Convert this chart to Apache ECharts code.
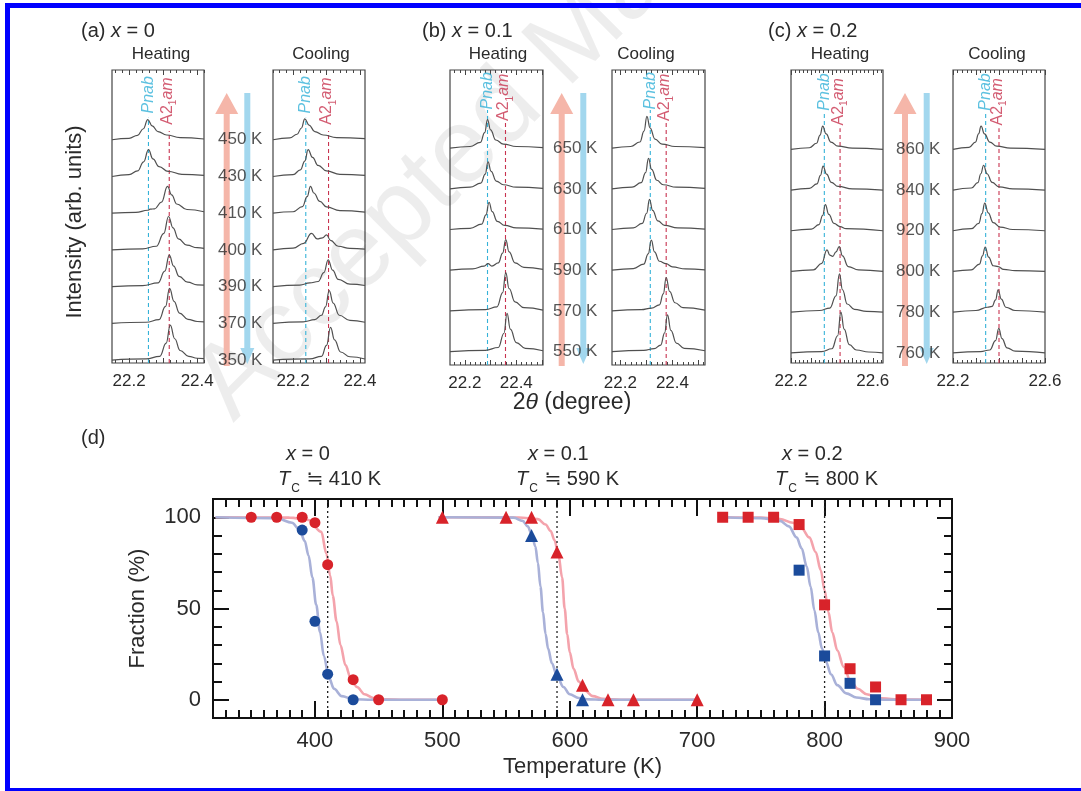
<!DOCTYPE html>
<html><head><meta charset="utf-8">
<script src="https://cdn.jsdelivr.net/npm/echarts@6/dist/echarts.min.js"></script>
<style>html,body{margin:0;padding:0;background:#fff}#c{width:1081px;height:791px}</style>
</head><body><div id="c"></div>
<script>
// ---------------- DATA ----------------
// Panel (a) x = 0 : temperature labels (top to bottom) and traces [2theta, relative intensity]
const aTemps = ['450 K','430 K','410 K','400 K','390 K','370 K','350 K'];
const aHeatTraces = [
  [[22.15,0.00],[22.20,0.04],[22.225,0.12],[22.242,0.30],[22.255,0.55],[22.268,0.38],[22.285,0.22],[22.31,0.13],[22.35,0.06],[22.42,0.02]],
  [[22.15,0.00],[22.20,0.05],[22.225,0.15],[22.243,0.40],[22.257,0.73],[22.27,0.48],[22.288,0.27],[22.315,0.14],[22.355,0.06],[22.42,0.03]],
  [[22.15,0.00],[22.22,0.02],[22.255,0.08],[22.262,0.11],[22.275,0.12],[22.295,0.30],[22.313,0.73],[22.325,0.50],[22.34,0.25],[22.37,0.10],[22.42,0.04]],
  [[22.15,0.00],[22.24,0.03],[22.28,0.10],[22.302,0.45],[22.316,0.91],[22.329,0.60],[22.345,0.30],[22.37,0.13],[22.40,0.06],[22.42,0.04]],
  [[22.15,0.00],[22.24,0.03],[22.285,0.10],[22.305,0.42],[22.318,0.86],[22.331,0.56],[22.347,0.28],[22.372,0.12],[22.40,0.05],[22.42,0.04]],
  [[22.15,0.00],[22.25,0.03],[22.288,0.10],[22.307,0.46],[22.319,0.95],[22.332,0.60],[22.348,0.28],[22.373,0.11],[22.40,0.05],[22.42,0.04]],
  [[22.15,0.00],[22.25,0.03],[22.29,0.10],[22.309,0.46],[22.321,0.95],[22.334,0.58],[22.35,0.26],[22.375,0.10],[22.40,0.05],[22.42,0.04]]
];
const aCoolTraces = [
  [[22.14,0.00],[22.19,0.05],[22.212,0.15],[22.225,0.32],[22.235,0.57],[22.248,0.40],[22.265,0.22],[22.29,0.13],[22.33,0.06],[22.415,0.03]],
  [[22.14,0.00],[22.20,0.05],[22.222,0.18],[22.235,0.42],[22.245,0.73],[22.258,0.52],[22.275,0.30],[22.30,0.15],[22.34,0.06],[22.415,0.03]],
  [[22.14,0.00],[22.20,0.04],[22.228,0.18],[22.242,0.45],[22.252,0.73],[22.262,0.55],[22.28,0.32],[22.30,0.17],[22.34,0.07],[22.415,0.03]],
  [[22.14,0.00],[22.20,0.05],[22.232,0.18],[22.255,0.45],[22.272,0.30],[22.288,0.33],[22.300,0.41],[22.312,0.26],[22.335,0.10],[22.37,0.04],[22.415,0.02]],
  [[22.14,0.00],[22.22,0.04],[22.25,0.10],[22.275,0.14],[22.292,0.38],[22.305,0.73],[22.318,0.45],[22.335,0.20],[22.37,0.07],[22.415,0.03]],
  [[22.14,0.00],[22.23,0.04],[22.265,0.10],[22.285,0.22],[22.297,0.45],[22.308,0.89],[22.32,0.55],[22.338,0.22],[22.37,0.08],[22.415,0.03]],
  [[22.14,0.00],[22.25,0.03],[22.285,0.10],[22.30,0.40],[22.312,0.89],[22.324,0.55],[22.342,0.22],[22.37,0.09],[22.415,0.03]]
];
const aHeatPeaks = [22.257, 22.318];   // Pnab, A2_1am reference positions
const aCoolPeaks = [22.238, 22.306];

// Panel (b) x = 0.1
const bTemps = ['650 K','630 K','610 K','590 K','570 K','550 K'];
const bHeatTraces = [
  [[22.142,0.00],[22.22,0.04],[22.26,0.14],[22.277,0.38],[22.288,0.70],[22.30,0.45],[22.32,0.20],[22.35,0.10],[22.40,0.04],[22.504,0.01]],
  [[22.142,0.00],[22.22,0.04],[22.262,0.14],[22.279,0.36],[22.29,0.66],[22.302,0.43],[22.322,0.19],[22.35,0.10],[22.40,0.04],[22.504,0.01]],
  [[22.142,0.00],[22.22,0.03],[22.265,0.13],[22.282,0.36],[22.294,0.67],[22.306,0.44],[22.326,0.20],[22.355,0.10],[22.40,0.04],[22.504,0.01]],
  [[22.142,0.00],[22.23,0.03],[22.275,0.10],[22.29,0.16],[22.305,0.10],[22.33,0.18],[22.347,0.42],[22.359,0.75],[22.372,0.45],[22.395,0.18],[22.43,0.07],[22.504,0.02]],
  [[22.142,0.00],[22.28,0.03],[22.325,0.10],[22.347,0.45],[22.359,0.94],[22.372,0.55],[22.395,0.22],[22.43,0.08],[22.504,0.02]],
  [[22.142,0.00],[22.28,0.03],[22.33,0.10],[22.352,0.45],[22.364,0.94],[22.377,0.55],[22.40,0.22],[22.435,0.08],[22.504,0.02]]
];
const bCoolTraces = [
  [[22.168,0.00],[22.24,0.04],[22.275,0.15],[22.291,0.42],[22.302,0.78],[22.314,0.50],[22.333,0.22],[22.36,0.10],[22.41,0.04],[22.525,0.01]],
  [[22.168,0.00],[22.245,0.04],[22.28,0.15],[22.297,0.40],[22.308,0.75],[22.32,0.48],[22.34,0.21],[22.365,0.10],[22.415,0.04],[22.525,0.01]],
  [[22.168,0.00],[22.25,0.04],[22.284,0.15],[22.301,0.40],[22.312,0.74],[22.324,0.47],[22.344,0.21],[22.37,0.10],[22.42,0.04],[22.525,0.01]],
  [[22.168,0.00],[22.25,0.04],[22.29,0.15],[22.307,0.40],[22.319,0.74],[22.331,0.45],[22.35,0.22],[22.375,0.16],[22.40,0.08],[22.45,0.03],[22.525,0.01]],
  [[22.168,0.00],[22.28,0.03],[22.32,0.07],[22.35,0.15],[22.365,0.42],[22.376,0.82],[22.389,0.48],[22.41,0.20],[22.44,0.08],[22.525,0.02]],
  [[22.168,0.00],[22.29,0.03],[22.33,0.07],[22.355,0.16],[22.37,0.46],[22.381,0.90],[22.394,0.52],[22.415,0.21],[22.445,0.08],[22.525,0.02]]
];
const bHeatPeaks = [22.288, 22.358];
const bCoolPeaks = [22.315, 22.376];

// Panel (c) x = 0.2
const cTemps = ['860 K','840 K','920 K','800 K','780 K','760 K'];
const cHeatTraces = [
  [[22.20,0.00],[22.29,0.04],[22.325,0.15],[22.342,0.35],[22.355,0.57],[22.372,0.38],[22.395,0.18],[22.43,0.08],[22.50,0.03],[22.65,0.00]],
  [[22.20,0.00],[22.29,0.04],[22.327,0.15],[22.344,0.36],[22.357,0.59],[22.374,0.39],[22.397,0.19],[22.43,0.09],[22.50,0.03],[22.65,0.00]],
  [[22.20,0.00],[22.30,0.04],[22.337,0.15],[22.355,0.38],[22.368,0.64],[22.385,0.40],[22.41,0.18],[22.44,0.10],[22.47,0.05],[22.65,0.00]],
  [[22.20,0.00],[22.31,0.04],[22.35,0.20],[22.376,0.53],[22.39,0.40],[22.404,0.37],[22.42,0.48],[22.436,0.61],[22.452,0.38],[22.48,0.12],[22.53,0.04],[22.65,0.00]],
  [[22.20,0.00],[22.34,0.04],[22.39,0.10],[22.42,0.40],[22.437,0.94],[22.452,0.55],[22.475,0.20],[22.51,0.07],[22.57,0.02],[22.65,0.00]],
  [[22.20,0.00],[22.35,0.03],[22.40,0.10],[22.428,0.42],[22.444,1.00],[22.46,0.58],[22.485,0.20],[22.52,0.07],[22.58,0.02],[22.65,0.00]]
];
const cCoolTraces = [
  [[22.20,0.00],[22.27,0.05],[22.298,0.18],[22.311,0.38],[22.322,0.57],[22.337,0.38],[22.36,0.18],[22.39,0.08],[22.45,0.03],[22.60,0.00]],
  [[22.20,0.00],[22.28,0.05],[22.308,0.18],[22.321,0.40],[22.333,0.61],[22.348,0.40],[22.37,0.19],[22.40,0.08],[22.46,0.03],[22.60,0.00]],
  [[22.20,0.00],[22.28,0.05],[22.312,0.18],[22.326,0.42],[22.338,0.68],[22.353,0.44],[22.375,0.20],[22.405,0.09],[22.46,0.03],[22.60,0.00]],
  [[22.20,0.00],[22.28,0.04],[22.315,0.18],[22.328,0.38],[22.34,0.60],[22.355,0.35],[22.375,0.14],[22.396,0.12],[22.42,0.05],[22.47,0.02],[22.60,0.00]],
  [[22.20,0.00],[22.30,0.04],[22.349,0.12],[22.37,0.14],[22.385,0.30],[22.396,0.55],[22.41,0.32],[22.43,0.12],[22.47,0.04],[22.60,0.00]],
  [[22.20,0.00],[22.32,0.03],[22.36,0.07],[22.385,0.30],[22.399,0.60],[22.413,0.35],[22.435,0.12],[22.47,0.04],[22.60,0.00]]
];
const cHeatPeaks = [22.363, 22.440];
const cCoolPeaks = [22.342, 22.400];

const abTickLabels = [22.2, 22.4];
const cTickLabels = [22.2, 22.6];

// Panel (d): fraction (%) vs temperature (K)
const tempTicks = [400, 500, 600, 700, 800, 900];
const fracTicks = [0, 50, 100];
const heat0 = [[350,100],[370,100],[390,100],[400,97],[410,74],[430,11],[450,0],[500,0]];
const cool0 = [[390,93],[400,43],[410,14],[430,0]];
const heat1 = [[500,100],[550,100],[570,100],[590,81],[610,8],[630,0],[650,0],[700,0]];
const cool1 = [[570,90],[590,14],[610,0]];
const heat2 = [[720,100],[740,100],[760,100],[780,96],[800,52],[820,17],[840,7],[860,0],[880,0]];
const cool2 = [[780,71],[800,24],[820,9],[840,0]];
const heatFit0 = [[322,100],[380,99.8],[395,98.5],[405,92],[409,80],[412,68],[414,57],[417,43],[420,30],[424,19],[428,12],[433,7],[439,3],[446,1],[455,0.2],[470,0],[500,0]];
const coolFit0 = [[322,100],[370,99.5],[382,97],[388,93],[392,87],[395,79],[398,67],[401,52],[404,37],[407,24],[411,12],[415,6],[421,2],[430,0.3],[445,0],[500,0]];
const heatFit1 = [[497,100],[560,99.9],[575,99],[581,96],[585,92.5],[588,87.5],[591,80],[594,67],[596,50],[598,36],[600,26],[603,17],[607,10],[612,5],[618,2],[626,0.5],[640,0],[700,0]];
const coolFit1 = [[497,100],[556,99.8],[563,98],[567,95],[570,91],[573,84],[575,75],[577,62],[579,48],[581,36],[583,28],[586,20],[590,13],[595,7],[600,3],[607,1],[615,0.2],[625,0],[700,0]];
const heatFit2 = [[721,100],[750,99.8],[765,99],[775,97],[782,94],[788,89],[793,81],[797,71],[800,60],[803,48],[806,37],[810,27],[815,18],[820,11],[826,6],[833,3],[842,1],[855,0.2],[880,0]];
const coolFit2 = [[721,100],[750,99.5],[765,98],[772,95],[778,89],[782,83],[786,73],[789,62],[792,49],[795,37],[798,28],[801,21],[805,14],[810,8],[817,3.5],[825,1.2],[835,0.3],[850,0],[880,0]];
const tcValues = [410, 590, 800];
const compLabels = ['0', '0.1', '0.2'];

// ---------------- STYLE / LAYOUT ----------------
const FONT = "'Liberation Sans', Arial, 'DejaVu Sans', sans-serif";
const CYAN = '#35b2d8', CRIM = '#c8334f';
const TXT = '#2a2a2a';

const panels = [
  {box:[112,70,92,293], x:[22.15,22.42],  y:[-0.08,7.9], traces:aHeatTraces, peaks:aHeatPeaks, ticks:abTickLabels, lineTop:[6.6,6.24], labelY:[7.17,7.0], temps:aTemps, tempDist:14, title:'Heating', titleX:161},
  {box:[273,70,92,293], x:[22.14,22.415], y:[-0.08,7.9], traces:aCoolTraces, peaks:aCoolPeaks, ticks:abTickLabels, lineTop:[6.6,6.24], labelY:[7.17,7.0], title:'Cooling', titleX:321},
  {box:[450,70,93,295], x:[22.142,22.504],y:[-0.33,6.92], traces:bHeatTraces, peaks:bHeatPeaks, ticks:abTickLabels, lineTop:[5.94,5.69], labelY:[6.36,6.2], temps:bTemps, tempDist:10, title:'Heating', titleX:498},
  {box:[612,70,93,295], x:[22.168,22.525],y:[-0.33,6.92], traces:bCoolTraces, peaks:bCoolPeaks, ticks:abTickLabels, lineTop:[5.94,5.69], labelY:[6.36,6.2], title:'Cooling', titleX:646},
  {box:[791,70,92,293], x:[22.2,22.65],   y:[-0.25,6.95], traces:cHeatTraces, peaks:cHeatPeaks, ticks:cTickLabels, lineTop:[5.89,5.52], labelY:[6.36,6.12], temps:cTemps, tempDist:13, title:'Heating', titleX:840},
  {box:[953,70,92,293], x:[22.2,22.6],    y:[-0.25,6.95], traces:cCoolTraces, peaks:cCoolPeaks, ticks:cTickLabels, lineTop:[5.89,5.52], labelY:[6.36,6.12], title:'Cooling', titleX:997}
];

function stepValues(a, b, step) {
  const out = [];
  for (let k = Math.ceil(a / step - 1e-9); k * step <= b + 1e-9; k++) out.push(+(k * step).toFixed(4));
  return out;
}

const grids = [], xAxis = [], yAxis = [], series = [];

function addXAxes(gi, range, labels, major, minor, st) {
  const base = {gridIndex: gi, type: 'value', min: range[0], max: range[1], splitLine: {show: false}, axisLine: {show: false, onZero: false}};
  const tickStyle = {color: st.color, width: st.width};
  const first = xAxis.length;
  xAxis.push(Object.assign({}, base, {position: 'bottom',
    axisTick: {show: true, inside: true, length: st.maj, customValues: major, lineStyle: tickStyle},
    axisLabel: {show: true, customValues: labels, fontSize: st.fontSize, fontFamily: FONT, color: TXT, margin: st.margin,
      formatter: v => st.decimals ? Number(v).toFixed(st.decimals) : String(v)},
    name: st.name || '', nameLocation: 'middle', nameGap: st.nameGap || 0,
    nameTextStyle: {fontSize: 22, fontFamily: FONT, color: TXT}}));
  xAxis.push(Object.assign({}, base, {position: 'bottom',
    axisTick: {show: true, inside: true, length: st.min, customValues: minor, lineStyle: tickStyle}, axisLabel: {show: false}}));
  xAxis.push(Object.assign({}, base, {position: 'top',
    axisTick: {show: true, inside: true, length: st.maj, customValues: major, lineStyle: tickStyle}, axisLabel: {show: false}}));
  xAxis.push(Object.assign({}, base, {position: 'top',
    axisTick: {show: true, inside: true, length: st.min, customValues: minor, lineStyle: tickStyle}, axisLabel: {show: false}}));
  return first;
}

panels.forEach((p, gi) => {
  grids.push({left: p.box[0], top: p.box[1], width: p.box[2], height: p.box[3], show: true,
    borderColor: '#444', borderWidth: 1.2, backgroundColor: 'transparent'});
  const xi = addXAxes(gi, p.x, p.ticks, stepValues(p.x[0], p.x[1], 0.1), stepValues(p.x[0], p.x[1], 0.02),
    {maj: 5, min: 3, color: '#444', width: 1, fontSize: 17, margin: 10, decimals: 1});
  const yi = yAxis.length;
  yAxis.push({gridIndex: gi, type: 'value', min: p.y[0], max: p.y[1], show: false});
  const n = p.traces.length;
  p.traces.forEach((tr, i) => {
    series.push({type: 'line', xAxisIndex: xi, yAxisIndex: yi, data: tr.map(d => [d[0], d[1] + (n - 1 - i)]),
      smooth: 0.45, smoothMonotone: 'x', symbol: 'none', silent: true, z: 3,
      lineStyle: {color: '#505050', width: 1.2}});
  });
  p.peaks.forEach((pk, k) => {
    series.push({type: 'line', xAxisIndex: xi, yAxisIndex: yi, data: [[pk, p.y[0]], [pk, p.lineTop[k]]],
      symbol: 'none', silent: true, z: 2, lineStyle: {color: k ? CRIM : CYAN, width: 1.1, type: [4, 3]}});
    series.push({type: 'scatter', xAxisIndex: xi, yAxisIndex: yi, data: [[pk, p.labelY[k]]], symbolSize: 0, silent: true, z: 4,
      label: {show: true, position: 'inside', rotate: 90, offset: [2, 0],
        formatter: k ? '{a|A2}{s|1}{i|am}' : '{i|Pnab}',
        rich: {
          a: {fontSize: 16, fontFamily: FONT, color: CRIM, verticalAlign: 'top'},
          i: {fontSize: 16, fontFamily: FONT, fontStyle: 'italic', color: k ? CRIM : CYAN, verticalAlign: 'top'},
          s: {fontSize: 10, fontFamily: FONT, color: CRIM, verticalAlign: 'top', padding: [9, 0, 0, 0]}
        }}});
  });
  if (p.temps) {
    series.push({type: 'scatter', xAxisIndex: xi, yAxisIndex: yi, symbolSize: 0, silent: true, z: 5,
      data: p.temps.map((t, i) => ({name: t, value: [p.x[1], n - 1 - i]})),
      label: {show: true, position: 'right', distance: p.tempDist, formatter: '{b}', fontSize: 17, fontFamily: FONT, color: TXT}});
  }
});

// Panel (d)
const dgi = grids.length;
grids.push({left: 213, top: 499, width: 739, height: 219, show: true, borderColor: '#111', borderWidth: 2, backgroundColor: 'transparent'});
const dxi = addXAxes(dgi, [320, 900], tempTicks, tempTicks, stepValues(330, 890, 10),
  {maj: 17, min: 8, color: '#111', width: 2, fontSize: 22, margin: 12, name: 'Temperature (K)', nameGap: 38});
const dyBase = {gridIndex: dgi, type: 'value', min: -10, max: 110, splitLine: {show: false}, axisLine: {show: false, onZero: false}};
const dTick = {color: '#111', width: 2};
const dyi = yAxis.length;
yAxis.push(Object.assign({}, dyBase, {position: 'left',
  axisTick: {show: true, inside: true, length: 16, customValues: fracTicks, lineStyle: dTick},
  axisLabel: {show: true, customValues: fracTicks, fontSize: 22, fontFamily: FONT, color: TXT, margin: 12},
  name: 'Fraction (%)', nameLocation: 'middle', nameGap: 64, nameTextStyle: {fontSize: 22, fontFamily: FONT, color: TXT}}));
yAxis.push(Object.assign({}, dyBase, {position: 'left',
  axisTick: {show: true, inside: true, length: 9, customValues: stepValues(10, 90, 10), lineStyle: dTick}, axisLabel: {show: false}}));
yAxis.push(Object.assign({}, dyBase, {position: 'right',
  axisTick: {show: true, inside: true, length: 15, customValues: fracTicks, lineStyle: dTick}, axisLabel: {show: false}}));
yAxis.push(Object.assign({}, dyBase, {position: 'right',
  axisTick: {show: true, inside: true, length: 8, customValues: stepValues(10, 90, 10), lineStyle: dTick}, axisLabel: {show: false}}));

const RED = '#d8232a', BLUE = '#1b4b9b', RED_FIT = '#f4a3ac', BLUE_FIT = '#a9b1d8';
[[heatFit0, RED_FIT], [heatFit1, RED_FIT], [heatFit2, RED_FIT], [coolFit0, BLUE_FIT], [coolFit1, BLUE_FIT], [coolFit2, BLUE_FIT]].forEach(([d, c]) => {
  series.push({type: 'line', xAxisIndex: dxi, yAxisIndex: dyi, data: d, smooth: 0.35, smoothMonotone: 'x',
    symbol: 'none', silent: true, z: 2, lineStyle: {color: c, width: 2.6}});
});
tcValues.forEach(tc => {
  series.push({type: 'line', xAxisIndex: dxi, yAxisIndex: dyi, data: [[tc, -10], [tc, 110]], symbol: 'none', silent: true, z: 2,
    lineStyle: {color: '#222', width: 1.3, type: [2, 3]}});
});
[[heat0, RED, 'circle', 11], [heat1, RED, 'triangle', 13], [heat2, RED, 'rect', 11],
 [cool0, BLUE, 'circle', 11], [cool1, BLUE, 'triangle', 13], [cool2, BLUE, 'rect', 11]].forEach(([d, c, s, sz]) => {
  series.push({type: 'scatter', xAxisIndex: dxi, yAxisIndex: dyi, data: d, symbol: s, symbolSize: sz, silent: true, z: 4,
    itemStyle: {color: c, opacity: 1}});
});

// ---------------- GRAPHIC (frame, titles, arrows) ----------------
const graphic = [];
const txt = (x, y, text, size, extra) => Object.assign({type: 'text', x, y, z: 10,
  style: Object.assign({text, fontSize: size, fontFamily: FONT, fill: TXT, align: 'left', verticalAlign: 'middle'}, (extra || {}))});

graphic.push({type: 'text', x: 250, y: 440, rotation: Math.PI / 4, z: 0,
  style: {text: 'Accepted Manuscript', fontSize: 106, fontFamily: FONT, fill: 'rgba(0,0,0,0.07)', align: 'left', verticalAlign: 'bottom'}});

[[226.7, 247.3], [561.7, 583.3], [905, 926.7]].forEach(([rx, bx]) => {
  graphic.push({type: 'polygon', z: 1, shape: {points: [[rx - 3, 366], [rx - 3, 114], [rx - 11.5, 114], [rx, 93], [rx + 11.5, 114], [rx + 3, 114], [rx + 3, 366]]},
    style: {fill: '#f5b6a9'}});
  graphic.push({type: 'polygon', z: 1, shape: {points: [[bx - 3, 93], [bx - 3, 348], [bx - 7, 348], [bx, 364], [bx + 7, 348], [bx + 3, 348], [bx + 3, 93]]},
    style: {fill: '#a2d7ee'}});
});

const richT = size => ({t: {fontSize: size, fontFamily: FONT, fill: TXT}, i: {fontSize: size, fontFamily: FONT, fontStyle: 'italic', fill: TXT}});
graphic.push(txt(81, 31, '{t|(a) }{i|x}{t| = 0}', 20, {rich: richT(20)}));
graphic.push(txt(422, 31, '{t|(b) }{i|x}{t| = 0.1}', 20, {rich: richT(20)}));
graphic.push(txt(768, 31, '{t|(c) }{i|x}{t| = 0.2}', 20, {rich: richT(20)}));
panels.forEach(p => graphic.push(txt(p.titleX, 54, p.title, 17, {align: 'center'})));
graphic.push({type: 'text', x: 75, y: 222, rotation: Math.PI / 2, z: 10,
  style: {text: 'Intensity (arb. units)', fontSize: 22, fontFamily: FONT, fill: TXT, align: 'center', verticalAlign: 'middle'}});
graphic.push(txt(572, 403, '{t|2}{i|θ}{t| (degree)}', 23, {align: 'center', rich: richT(23)}));
graphic.push(txt(81, 438, '(d)', 20));

const tcLeft = [278, 516, 775], xLeft = [286, 528, 782];
tcValues.forEach((tc, k) => {
  graphic.push(txt(xLeft[k], 454, '{i|x}{t| = ' + compLabels[k] + '}', 20, {rich: richT(20)}));
  graphic.push(Object.assign(txt(tcLeft[k], 469, '{i|T}{s|C}{t| ≒ ' + tc + ' K}', 20, {verticalAlign: 'top',
    rich: {t: {fontSize: 20, fontFamily: FONT, fill: TXT, verticalAlign: 'top'},
           i: {fontSize: 20, fontFamily: FONT, fontStyle: 'italic', fill: TXT, verticalAlign: 'top'},
           s: {fontSize: 12, fontFamily: FONT, fill: TXT, verticalAlign: 'top', padding: [14, 1, 0, 1]}}})));
});

// blue frame
graphic.push({type: 'rect', z: 20, shape: {x: 5, y: 3, width: 1076, height: 5}, style: {fill: '#0000ff'}});
graphic.push({type: 'rect', z: 20, shape: {x: 5, y: 3, width: 5, height: 788}, style: {fill: '#0000ff'}});
graphic.push({type: 'rect', z: 20, shape: {x: 5, y: 788, width: 1076, height: 3}, style: {fill: '#0000ff'}});

const chart = echarts.init(document.getElementById('c'), null, {renderer: 'canvas'});
chart.setOption({animation: false, backgroundColor: '#fff', grid: grids, xAxis, yAxis, series, graphic});
</script></body></html>
